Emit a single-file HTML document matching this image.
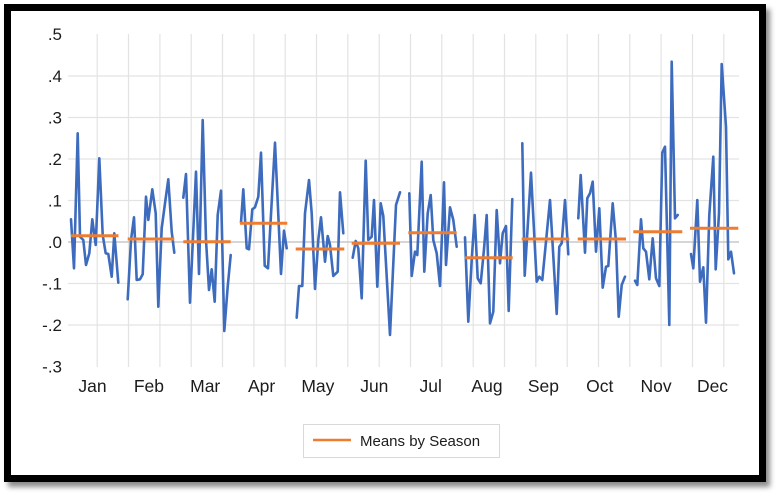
<!DOCTYPE html>
<html>
<head>
<meta charset="utf-8">
<style>
html,body{margin:0;padding:0;background:#fff;}
body{width:778px;height:494px;position:relative;overflow:hidden;}
.frame{position:absolute;left:4px;top:4px;width:748px;height:464px;border:7px solid #000;background:#fff;box-shadow:4px 5px 5px rgba(0,0,0,0.45);}
svg{position:absolute;left:0;top:0;}
text{font-family:"Liberation Sans",sans-serif;fill:#1c1c1c;}
</style>
</head>
<body>
<div class="frame"></div>
<svg width="778" height="494" viewBox="0 0 778 494" xmlns="http://www.w3.org/2000/svg">
  <g stroke="#e3e3e3" stroke-width="1.2">
    <line x1="68" x2="739" y1="76" y2="76"/>
    <line x1="68" x2="739" y1="117.5" y2="117.5"/>
    <line x1="68" x2="739" y1="159" y2="159"/>
    <line x1="68" x2="739" y1="200.5" y2="200.5"/>
    <line x1="68" x2="739" y1="283.5" y2="283.5"/>
    <line x1="68" x2="739" y1="325" y2="325"/>
  </g>
  <g stroke="#e3e3e3" stroke-width="1.2">
    <line x1="97.2" x2="97.2" y1="34" y2="367"/>
    <line x1="128.5" x2="128.5" y1="34" y2="367"/>
    <line x1="159.9" x2="159.9" y1="34" y2="367"/>
    <line x1="191.2" x2="191.2" y1="34" y2="367"/>
    <line x1="222.5" x2="222.5" y1="34" y2="367"/>
    <line x1="253.9" x2="253.9" y1="34" y2="367"/>
    <line x1="285.2" x2="285.2" y1="34" y2="367"/>
    <line x1="316.5" x2="316.5" y1="34" y2="367"/>
    <line x1="347.8" x2="347.8" y1="34" y2="367"/>
    <line x1="379.2" x2="379.2" y1="34" y2="367"/>
    <line x1="410.5" x2="410.5" y1="34" y2="367"/>
    <line x1="441.8" x2="441.8" y1="34" y2="367"/>
    <line x1="473.2" x2="473.2" y1="34" y2="367"/>
    <line x1="504.5" x2="504.5" y1="34" y2="367"/>
    <line x1="535.8" x2="535.8" y1="34" y2="367"/>
    <line x1="567.2" x2="567.2" y1="34" y2="367"/>
    <line x1="598.5" x2="598.5" y1="34" y2="367"/>
    <line x1="629.8" x2="629.8" y1="34" y2="367"/>
    <line x1="661.1" x2="661.1" y1="34" y2="367"/>
    <line x1="692.5" x2="692.5" y1="34" y2="367"/>
    <line x1="723.8" x2="723.8" y1="34" y2="367"/>
  </g>
  <line x1="68" x2="739" y1="242" y2="242" stroke="#c8c8c8" stroke-width="1.5"/>

  <g font-size="17" text-anchor="end">
    <text x="62" y="40">.5</text>
    <text x="62" y="82">.4</text>
    <text x="62" y="123.5">.3</text>
    <text x="62" y="165">.2</text>
    <text x="62" y="206.5">.1</text>
    <text x="62" y="248">.0</text>
    <text x="62" y="289.5">-.1</text>
    <text x="62" y="331">-.2</text>
    <text x="62" y="372.5">-.3</text>
  </g>
  <g font-size="17.5" text-anchor="middle">
    <text x="92.5" y="392">Jan</text>
    <text x="148.9" y="392">Feb</text>
    <text x="205.2" y="392">Mar</text>
    <text x="261.6" y="392">Apr</text>
    <text x="317.9" y="392">May</text>
    <text x="374.3" y="392">Jun</text>
    <text x="430.7" y="392">Jul</text>
    <text x="487" y="392">Aug</text>
    <text x="543.4" y="392">Sep</text>
    <text x="599.7" y="392">Oct</text>
    <text x="656.1" y="392">Nov</text>
    <text x="712.5" y="392">Dec</text>
  </g>

  <g fill="none" stroke="#3d6bbd" stroke-width="2.6" stroke-linejoin="round" stroke-linecap="round">
    <polyline points="71,219.3 74,268.3 77.7,133.3 80,236.7 83.3,240 86,265 89.3,253.3 92.3,219.3 95.7,245 99.3,158.3 102.7,235 105.7,253.3 108.3,254 111.7,276.7 114.3,233.3 118.3,282.7"/>
    <polyline points="127.7,299.3 131,240 134,217.3 136.7,280 140,279.3 142.7,274.3 146,196.7 148.3,220 152.3,189.3 155.7,213.3 158.3,306.7 161.7,228.3 165,203.3 168.3,179.3 171.7,231.7 174.3,252.7"/>
    <polyline points="183.3,197.7 186,174 190,302.7 196,171.7 199,274 202.7,120 206,240 209,290 211.7,269.3 214.7,301.7 217.7,215 221,190.7 224.3,331 227.7,286.7 230.7,255"/>
    <polyline points="241,222.7 243.3,189.3 246.7,248.3 249,249.3 252.3,209.3 255,207.3 258.3,196.7 261,152.7 264.7,265.7 268,268.3 275,142.7 281,274 284,230.7 286.7,248.3"/>
    <polyline points="296.7,317.7 299,286 302.3,286 305,213.3 309,180 311.7,213.3 315,289 318.3,240 321,217.3 325,261.7 327.7,236 330,245 333.3,276 337.7,271.7 340,192.3 343.3,233.3"/>
    <polyline points="352.7,257.7 355.7,241 358.3,248.3 361.7,298.3 365.7,160.7 368.3,240 371.7,236.7 374,200 377.3,286.7 380.7,203.3 383.3,216 390,335 396,205 400,192.3"/>
    <polyline points="409.3,193.3 411.7,276 415,251.7 417.3,255 421.7,161.7 424.3,271.7 427.7,213.3 430.7,195 433.3,240 436.7,253.3 440,286 444,182.3 446,265 450,207.3 453.3,220 456.7,246.7"/>
    <polyline points="465,237.3 468.3,321.7 471.7,260 474.7,215 477.7,278.3 480.7,283.3 484,249.3 486.7,215 490,323.3 493.3,311.7 496.7,210 500,263.3 502.7,233.3 506,226 508.7,311 512.3,199"/>
    <polyline points="522.3,143.3 524.7,275.7 531,172.7 536.7,281.7 539.3,276.7 542.3,280 550,200 556.7,314 559.3,246.7 561.7,243.3 565,200 568.3,254.3"/>
    <polyline points="578.3,218.3 580.7,175 585,252.7 587.3,198.3 590,193.3 592.7,181.7 596,251.7 599.3,208.3 602.7,287.7 606,266.7 608.3,266 612.7,203.3 616,241.7 618.7,316.7 621.7,285 625,276.7"/>
    <polyline points="635,280.7 637.3,285 641,219.3 643.3,248.3 646,251.7 649.3,279.3 652.7,238.3 656,278.3 659.3,286 662.3,152.7 665,146.7 669.3,325 671.7,61.7 675,218.3 677.7,215"/>
    <polyline points="691,254 693.3,268.3 697.3,200 700,281.7 703.3,267.3 706,322.7 709.3,215 713.3,156.7 715.7,269.3 719,213.3 721.7,64 726,126.7 728.3,259.3 731,251.7 734,273.3"/>
  </g>

  <g stroke="#ed7d31" stroke-width="3" stroke-linecap="butt">
    <line x1="71" x2="118.5" y1="235.7" y2="235.7"/>
    <line x1="127.7" x2="174.3" y1="239" y2="239"/>
    <line x1="183.3" x2="230.7" y1="241.7" y2="241.7"/>
    <line x1="240" x2="287.3" y1="223.3" y2="223.3"/>
    <line x1="295.7" x2="344.3" y1="249" y2="249"/>
    <line x1="351.7" x2="400" y1="243.3" y2="243.3"/>
    <line x1="408.3" x2="456.7" y1="232.7" y2="232.7"/>
    <line x1="465" x2="512.7" y1="257.7" y2="257.7"/>
    <line x1="521.7" x2="569.3" y1="239" y2="239"/>
    <line x1="577.7" x2="626" y1="239" y2="239"/>
    <line x1="633.3" x2="682.3" y1="231.7" y2="231.7"/>
    <line x1="690" x2="738.3" y1="228.3" y2="228.3"/>
  </g>

  <rect x="303.5" y="424.5" width="196" height="33" fill="#fff" stroke="#d9d9d9" stroke-width="1"/>
  <line x1="313" x2="351" y1="440" y2="440" stroke="#ed7d31" stroke-width="2.5"/>
  <text x="360" y="446" font-size="15">Means by Season</text>
</svg>
</body>
</html>
